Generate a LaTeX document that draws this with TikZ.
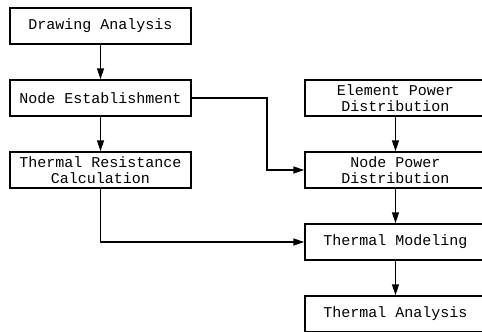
\documentclass[tikz,border=0pt]{standalone}
\usepackage{fontspec}
\setmonofont{Liberation Mono}
\usetikzlibrary{arrows.meta}
\tikzset{
  stage/.style={draw, line width=1.5pt, minimum width=181pt, minimum height=36pt,
    inner sep=1pt, align=center, font=\ttfamily\fontsize{15}{16}\selectfont},
  flow/.style={line width=1.5pt, -{Triangle[length=11pt,width=7pt]}}
}
\begin{document}
\begin{tikzpicture}[x=1pt,y=-1pt]
  \useasboundingbox (0,0) rectangle (482,332);
  % left column
  \node [stage] (draw)  at (100.5,26)  {Drawing Analysis};
  \node [stage] (nodes) at (100.5,98)  {Node Establishment};
  \node [stage] (res)   at (100.5,170) {Thermal Resistance\\Calculation};
  % right column
  \node [stage] (elem)  at (395.5,98)  {Element Power\\Distribution};
  \node [stage] (npow)  at (395.5,170) {Node Power\\Distribution};
  \node [stage] (model) at (395.5,242) {Thermal Modeling};
  \node [stage] (ana)   at (395.5,314) {Thermal Analysis};
  % connectors
  \draw [flow] (draw) -- (nodes);
  \draw [flow] (nodes) -- (res);
  \draw [flow] (elem) -- (npow);
  \draw [flow] (npow) -- (model);
  \draw [flow] (model) -- (ana);
  \draw [flow] (nodes.east) -- (267,98) |- (npow.west);
  \draw [flow] (res.south) |- (model.west);
\end{tikzpicture}
\end{document}
